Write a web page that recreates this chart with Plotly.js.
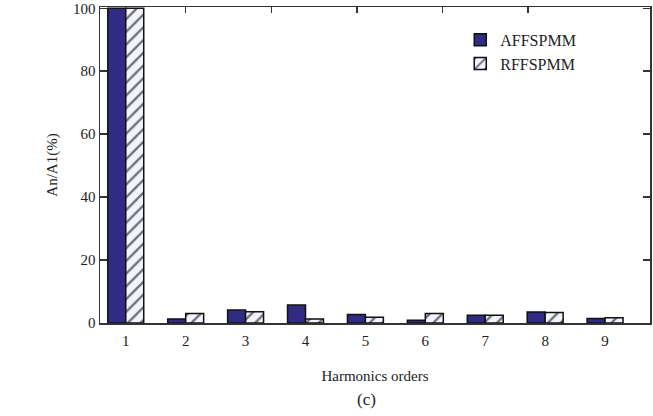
<!DOCTYPE html>
<html>
<head>
<meta charset="utf-8">
<script src="https://cdn.plot.ly/plotly-3.0.1.min.js"></script>
<style>
  html, body { margin: 0; padding: 0; background: #fff; }
  #chart { width: 653px; height: 416px; }
</style>
</head>
<body>
<div id="chart"></div>
<script>
// Harmonic content relative to the fundamental, per harmonic order
const orders = [1, 2, 3, 4, 5, 6, 7, 8, 9];
const affspmm = [100, 1.3, 4.1, 5.7, 2.7, 0.9, 2.5, 3.5, 1.4];
const rffspmm = [100, 3.0, 3.6, 1.3, 1.8, 3.0, 2.5, 3.3, 1.7];
const seriesNames = ['AFFSPMM', 'RFFSPMM'];
const yTicks = [0, 20, 40, 60, 80, 100];
const topTicks = [2, 3.43, 4.86, 6.29, 7.71];

const serif = 'Liberation Serif, Times New Roman, serif';

const traces = [
  {
    type: 'bar', name: seriesNames[0], x: orders, y: affspmm,
    width: 0.3, offset: -0.3,
    marker: { color: '#312b84', line: { color: '#111', width: 1.5 } }
  },
  {
    type: 'bar', name: seriesNames[1], x: orders, y: rffspmm,
    width: 0.3, offset: 0,
    marker: {
      color: '#f3f3fb',
      line: { color: '#111', width: 1.5 },
      pattern: { shape: '/', fgcolor: '#6a6a78', bgcolor: '#f3f3fb', size: 9, solidity: 0.25 }
    }
  },
  // invisible trace that carries the top axis
  { type: 'scatter', x: [orders[0]], y: [0], xaxis: 'x2', mode: 'markers',
    marker: { opacity: 0 }, showlegend: false, hoverinfo: 'skip' }
];

const layout = {
  width: 653, height: 416,
  margin: { l: 100, r: 3, t: 7, b: 93 },
  paper_bgcolor: '#fff', plot_bgcolor: '#fff',
  font: { family: serif, size: 15, color: '#222' },
  showlegend: true,
  legend: {
    x: 0.655, y: 0.95, xanchor: 'left', yanchor: 'top',
    bgcolor: 'rgba(0,0,0,0)', borderwidth: 0,
    font: { family: serif, size: 16, color: '#222' },
    itemwidth: 30, tracegroupgap: 6
  },
  xaxis: {
    range: [0.57, 9.75], tickvals: orders, ticktext: orders.map(String),
    showline: true, linecolor: '#333', linewidth: 1.5, ticks: '',
    ticklabelstandoff: 3,
    showgrid: false, zeroline: false,
    tickfont: { family: serif, size: 15, color: '#222' },
    title: { text: 'Harmonics orders', font: { family: serif, size: 15, color: '#222' }, standoff: 23 }
  },
  xaxis2: {
    overlaying: 'x', side: 'top', range: [0.57, 9.75],
    tickvals: topTicks, showticklabels: false,
    ticks: 'inside', ticklen: 6, tickcolor: '#333', tickwidth: 1.5,
    showline: true, linecolor: '#333', linewidth: 1.5,
    showgrid: false, zeroline: false
  },
  yaxis: {
    range: [0, 100.4], tickvals: yTicks,
    showline: true, linecolor: '#333', linewidth: 1.5, mirror: 'ticks',
    ticks: 'inside', ticklen: 7, tickcolor: '#333', tickwidth: 1.5,
    showgrid: false, zeroline: false,
    tickfont: { family: serif, size: 15, color: '#222' },
    title: { text: 'An/A1(%)', font: { family: serif, size: 15, color: '#222' }, standoff: 12 }
  },
  annotations: [
    { text: '(c)', xref: 'paper', yref: 'paper', x: 0.485, y: -0.205,
      xanchor: 'center', yanchor: 'top', showarrow: false,
      font: { family: serif, size: 17, color: '#222' } }
  ]
};

Plotly.newPlot('chart', traces, layout, { displayModeBar: false, staticPlot: true });
</script>
</body>
</html>
